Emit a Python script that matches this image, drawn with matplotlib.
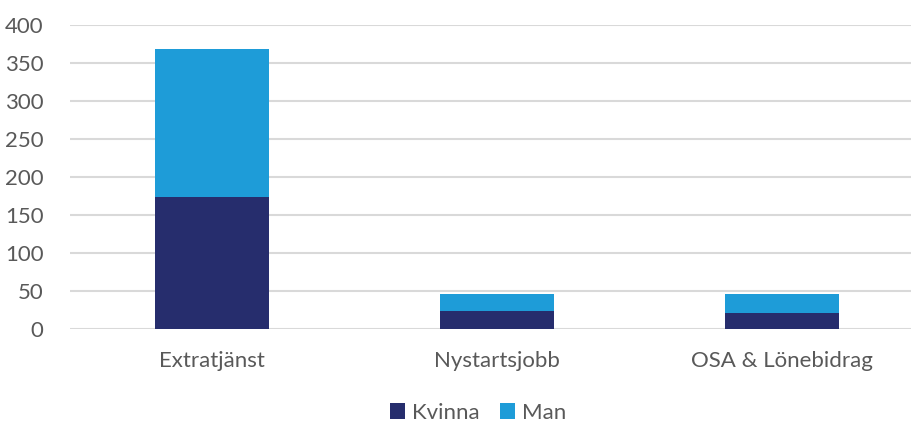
import matplotlib.pyplot as plt
import numpy as np

categories = ['Extratjänst', 'Nystartsjobb', 'OSA & Lönebidrag']
kvinna = [174, 24, 21]
man = [195, 22, 25]
yticks = [0, 50, 100, 150, 200, 250, 300, 350, 400]

plt.rcParams['font.family'] = ['Lato', 'DejaVu Sans']

fig = plt.figure(figsize=(9.11, 4.23), dpi=100)
ax = fig.add_axes([70 / 911, 1 - 329 / 423, 841 / 911, 304 / 423])

x = np.arange(len(categories))
ax.bar(x, kvinna, width=0.4, color='#262D6D', label='Kvinna', zorder=3)
ax.bar(x, man, width=0.4, bottom=kvinna, color='#1E9CD8', label='Man', zorder=3)

ax.set_ylim(0, 400)
ax.set_xlim(-0.5, 2.453)
ax.set_yticks(yticks)
ax.set_xticks(x)
ax.set_xticklabels(categories)
ax.tick_params(axis='both', length=0, colors='#595959', labelsize=16)
ax.tick_params(axis='x', pad=16)
ax.tick_params(axis='y', pad=19)
ax.grid(axis='y', color='#d9d9d9', linewidth=1.5, zorder=0)
for s in ax.spines.values():
    s.set_visible(False)

leg = fig.legend(loc='center', bbox_to_anchor=(478 / 911, 1 - 413 / 423), ncol=2,
                 frameon=False, fontsize=16, handlelength=0.7, handleheight=0.7,
                 handletextpad=0.3, columnspacing=0.9)
for t in leg.get_texts():
    t.set_color('#595959')

fig.savefig('out.png', dpi=100)
